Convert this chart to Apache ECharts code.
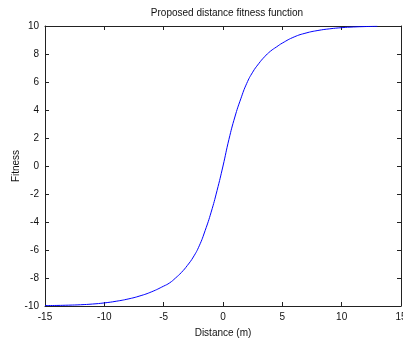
<!DOCTYPE html>
<html>
<head>
<meta charset="utf-8">
<script src="https://cdn.jsdelivr.net/npm/echarts@6/dist/echarts.min.js"></script>
<style>
html,body{margin:0;padding:0;background:#fff;}
#c{width:403px;height:340px;}
</style>
</head>
<body>
<div id="c"></div>
<script>
var xs = [-15,-14,-13,-12,-11,-10,-9,-8,-7,-6,-5,-4.5,-4,-3.5,-3,-2.5,-2,-1.5,-1,-0.5,0,0.5,1,1.5,2,2.5,3,3.5,4,4.5,5,6,7,8,9,10,11,12,13];
var ys = [-9.97,-9.96,-9.94,-9.91,-9.86,-9.78,-9.66,-9.5,-9.28,-8.98,-8.58,-8.35,-8.0,-7.6,-7.1,-6.5,-5.7,-4.6,-3.3,-1.75,0,1.9,3.5,4.8,5.9,6.7,7.3,7.8,8.2,8.5,8.78,9.22,9.5,9.68,9.8,9.88,9.93,9.96,9.98];
var titleText = 'Proposed distance fitness function';
var xName = 'Distance (m)';
var yName = 'Fitness';

var data = xs.map(function(x,i){return [x, ys[i]];});
var font = 'Liberation Sans';
var axisCol = '#222';
var chart = echarts.init(document.getElementById('c'), null, {renderer:'canvas'});
chart.setOption({
  animation:false,
  backgroundColor:'#fff',
  title:{text:titleText,left:222,textAlign:'center',top:3,textStyle:{fontFamily:font,fontSize:10,fontWeight:'normal',color:'#111'}},
  grid:{left:45,right:2,top:26,bottom:34,containLabel:false,outerBoundsMode:'none'},
  xAxis:[{
    type:'value',min:-15,max:15,interval:5,
    name:xName,nameLocation:'middle',nameGap:22,nameMoveOverlap:false,
    nameTextStyle:{fontFamily:font,fontSize:10,color:'#111'},
    axisLine:{onZero:false,lineStyle:{color:axisCol,width:1}},
    axisTick:{inside:true,length:4,lineStyle:{color:axisCol}},
    axisLabel:{fontFamily:font,fontSize:10,color:'#111',margin:6},
    splitLine:{show:false}
  },{
    type:'value',min:-15,max:15,interval:5,position:'top',
    axisLine:{onZero:false,lineStyle:{color:axisCol,width:1}},
    axisTick:{inside:true,length:4,lineStyle:{color:axisCol}},
    axisLabel:{show:false},splitLine:{show:false}
  }],
  yAxis:[{
    type:'value',min:-10,max:10,interval:2,
    name:yName,nameLocation:'middle',nameGap:24,nameRotate:90,nameMoveOverlap:false,
    nameTextStyle:{fontFamily:font,fontSize:10,color:'#111'},
    axisLine:{show:true,onZero:false,lineStyle:{color:axisCol,width:1}},
    axisTick:{show:true,inside:true,length:4,lineStyle:{color:axisCol}},
    axisLabel:{fontFamily:font,fontSize:10,color:'#111',margin:6},
    splitLine:{show:false}
  },{
    type:'value',min:-10,max:10,interval:2,position:'right',
    axisLine:{show:true,onZero:false,lineStyle:{color:axisCol,width:1}},
    axisTick:{show:true,inside:true,length:4,lineStyle:{color:axisCol}},
    axisLabel:{show:false},splitLine:{show:false}
  }],
  series:[{
    type:'line',data:data,smooth:0.5,showSymbol:false,symbol:'none',
    lineStyle:{color:'#0000ff',width:1},
    xAxisIndex:0,yAxisIndex:0
  }]
});
</script>
</body>
</html>
